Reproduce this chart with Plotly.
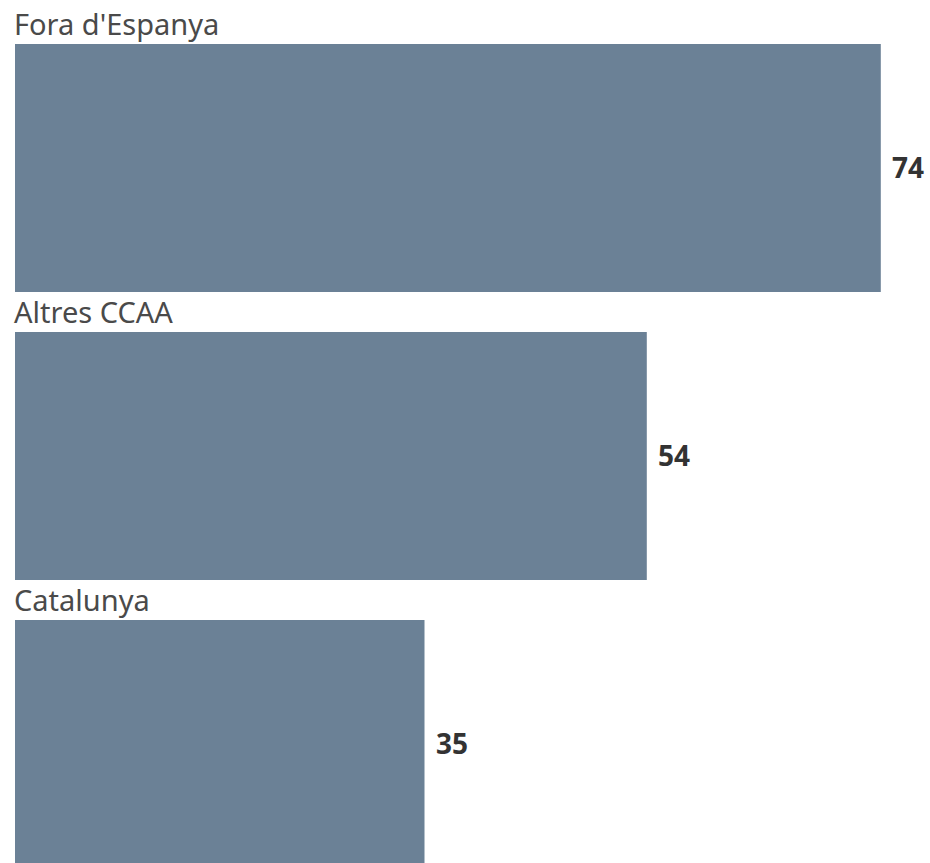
import plotly.graph_objects as go

categories = ["Fora d'Espanya", "Altres CCAA", "Catalunya"]
values = [74, 54, 35]

bar_color = "#6b8196"
W, H = 930, 863
px_per_unit = 11.7
left_px = 15
x0 = -left_px / px_per_unit
x1 = (W - left_px) / px_per_unit

step = 288.0
first_center = 168.0
y_top = -first_center / step
y_bot = (H - first_center) / step

ypos = list(range(len(categories)))

fig = go.Figure()
fig.add_trace(go.Bar(
    x=values, y=ypos, orientation="h",
    marker=dict(color=bar_color, line=dict(width=0)),
    width=248 / step,
    hoverinfo="skip",
))

for i, (c, v) in enumerate(zip(categories, values)):
    fig.add_annotation(
        x=0, y=i - 124 / step, xref="x", yref="y",
        text=c, showarrow=False, xanchor="left", yanchor="bottom",
        xshift=-3, yshift=-1,
        font=dict(family="Noto Sans", size=29, color="#4a4a4a"),
    )
    fig.add_annotation(
        x=v, y=i, xref="x", yref="y",
        text="<b>%d</b>" % v, showarrow=False, xanchor="left", yanchor="middle",
        xshift=9, yshift=1,
        font=dict(family="Noto Sans", size=28, color="#333333"),
    )

fig.update_layout(
    width=W, height=H,
    margin=dict(l=0, r=0, t=0, b=0),
    paper_bgcolor="white", plot_bgcolor="white",
    showlegend=False,
    hovermode=False,
    xaxis=dict(range=[x0, x1], visible=False, fixedrange=True),
    yaxis=dict(range=[y_bot, y_top], visible=False, fixedrange=True),
)

fig.write_html(
    "out.html",
    config={"displayModeBar": False},
    post_script="document.body.style.margin='0';",
)
